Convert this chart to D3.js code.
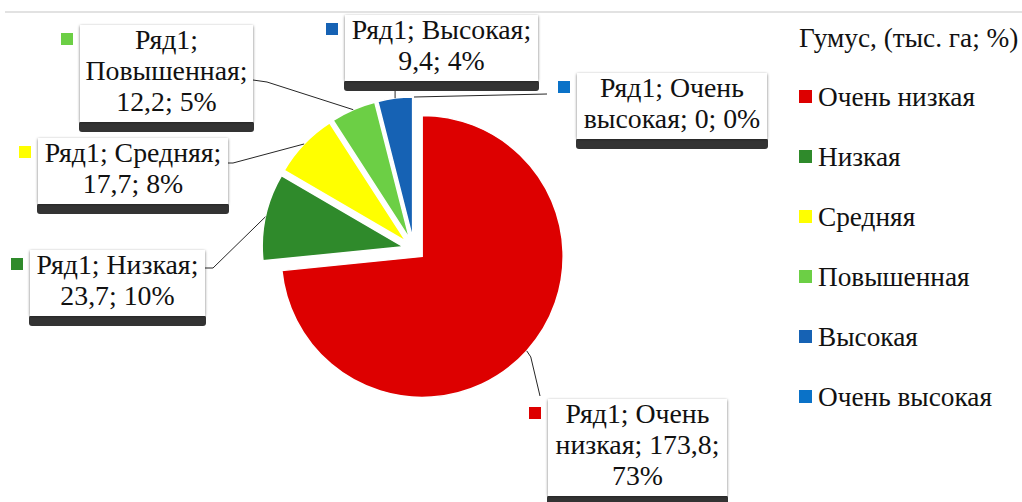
<!DOCTYPE html>
<html>
<head>
<meta charset="utf-8">
<script src="https://cdn.jsdelivr.net/npm/d3@7"></script>
<style>
  body { margin: 0; background: #fff; }
</style>
</head>
<body>
<div id="chart"></div>
<script>
const categories = ["Очень низкая", "Низкая", "Средняя", "Повышенная", "Высокая", "Очень высокая"];
const values = [173.8, 23.7, 17.7, 12.2, 9.4, 0];
const percents = [73, 10, 8, 5, 4, 0];
const seriesName = "Ряд1";
const legendTitle = "Гумус, (тыс. га; %)";
const colors = ["#dd0000", "#2f8a2b", "#ffff00", "#6ccf45", "#1662b4", "#0a72c8"];

const width = 1022, height = 502;
const cx = 414, cy = 249, radius = 141, explode = 11;
const serif = '"Liberation Serif"';
const labelSize = 27.8;
const legendSize = 27.3;

// label box placement, one per category (x, y = top-left, w = box width)
const labelBoxes = [
  { x: 548, y: 399, w: 179, elbow: null },
  { x: 30, y: 250, w: 175, elbow: [[205, 268], [213, 268]] },
  { x: 38, y: 138, w: 190, elbow: [[228, 163], [233, 163]] },
  { x: 80, y: 25, w: 173, elbow: [[253, 80], [267, 82]] },
  { x: 345, y: 15, w: 193, elbow: "vertical" },
  { x: 577, y: 73, w: 190, elbow: [[547, 94]] }
];

const svg = d3.select("#chart")
  .append("svg")
  .attr("width", width)
  .attr("height", height);

const defs = svg.append("defs");
const shadow = defs.append("filter").attr("id", "shadow")
  .attr("x", "-10%").attr("y", "-10%").attr("width", "120%").attr("height", "130%");
shadow.append("feDropShadow")
  .attr("dx", 0).attr("dy", 1).attr("stdDeviation", 1.6)
  .attr("flood-color", "#000").attr("flood-opacity", 0.55);

// thin rule at the top
svg.append("line")
  .attr("x1", 5).attr("x2", width).attr("y1", 12).attr("y2", 12)
  .attr("stroke", "#d9d9d9").attr("stroke-width", 1.5);

const data = categories.map((c, i) => ({ name: c, value: values[i], pct: percents[i], color: colors[i], i }));

const pie = d3.pie().sort(null).value(d => d.value);
const arcs = pie(data);
const arc = d3.arc().innerRadius(0).outerRadius(radius);

function offsetOf(a) {
  const mid = (a.startAngle + a.endAngle) / 2;
  return [explode * Math.sin(mid), -explode * Math.cos(mid)];
}
function rimPoint(a) {
  const mid = (a.startAngle + a.endAngle) / 2;
  const [ox, oy] = offsetOf(a);
  return [cx + ox + radius * Math.sin(mid), cy + oy - radius * Math.cos(mid)];
}

const pieG = svg.append("g");
pieG.selectAll("path")
  .data(arcs)
  .join("path")
  .attr("transform", d => {
    const [ox, oy] = offsetOf(d);
    return `translate(${cx + ox}, ${cy + oy})`;
  })
  .attr("d", arc)
  .attr("fill", d => d.data.color)
  .attr("stroke", "#fff")
  .attr("stroke-width", 1.5);

// leader lines
const fmt = v => String(v).replace(".", ",");
const lineG = svg.append("g");
arcs.forEach((a, i) => {
  const b = labelBoxes[i];
  const p = rimPoint(a);
  let pts;
  if (b.elbow === "vertical") {
    pts = [[p[0], b.y + 24 + 31 + 12], p];
  } else if (b.elbow === null) {
    pts = [[b.x - 8, b.y - 3], [p[0] + 4, p[1] + 6], p];
  } else {
    pts = [...b.elbow, p];
  }
  lineG.append("path")
    .attr("d", d3.line()(pts))
    .attr("fill", "none")
    .attr("stroke", "#262626")
    .attr("stroke-width", 1);
});

// data labels
const labelG = svg.append("g");
arcs.forEach((a, i) => {
  const b = labelBoxes[i];
  const d = a.data;
  const words = `${seriesName}; ${d.name}; ${fmt(d.value)}; ${d.pct}%`.split(" ");
  const g = labelG.append("g");

  // wrap words to box width
  const probe = g.append("text").attr("font-size", labelSize).style("font-family", serif);
  const lines = [];
  let cur = "";
  words.forEach(w => {
    const test = cur ? cur + " " + w : w;
    probe.text(test);
    if (probe.node().getComputedTextLength() > b.w - 8 && cur) {
      lines.push(cur);
      cur = w;
    } else {
      cur = test;
    }
  });
  lines.push(cur);
  probe.remove();

  const lh = 31;
  const firstBase = b.y + 24;
  const barTop = firstBase + (lines.length - 1) * lh + 10;

  g.append("rect")
    .attr("x", b.x - 1).attr("y", barTop)
    .attr("width", b.w + 2).attr("height", 11)
    .attr("rx", 3)
    .attr("fill", "#333");
  g.append("rect")
    .attr("x", b.x).attr("y", b.y)
    .attr("width", b.w).attr("height", barTop - b.y)
    .attr("fill", "#fff")
    .attr("filter", "url(#shadow)");
  g.append("rect")
    .attr("x", b.x).attr("y", b.y)
    .attr("width", b.w).attr("height", barTop - b.y + 1)
    .attr("fill", "#fff");

  g.append("rect")
    .attr("x", b.x - 19).attr("y", firstBase - 16)
    .attr("width", 12).attr("height", 12)
    .attr("fill", d.color);

  g.selectAll("text.l")
    .data(lines)
    .join("text")
    .attr("class", "l")
    .attr("x", b.x + b.w / 2)
    .attr("y", (t, j) => firstBase + j * lh)
    .attr("text-anchor", "middle")
    .attr("font-size", labelSize)
    .style("font-family", serif)
    .attr("fill", "#111")
    .text(t => t);
});

// legend
const legend = svg.append("g").attr("transform", "translate(799, 0)");
legend.append("text")
  .attr("x", 0).attr("y", 47)
  .attr("font-size", legendSize)
  .style("font-family", serif)
  .attr("fill", "#111")
  .text(legendTitle);

const item = legend.selectAll("g.item")
  .data(data)
  .join("g")
  .attr("class", "item")
  .attr("transform", (d, i) => `translate(0, ${97 + i * 60})`);
item.append("rect")
  .attr("x", 0).attr("y", -7)
  .attr("width", 13).attr("height", 13)
  .attr("fill", d => d.color);
item.append("text")
  .attr("x", 19).attr("y", 9)
  .attr("font-size", legendSize)
  .style("font-family", serif)
  .attr("fill", "#111")
  .text(d => d.name);
</script>
</body>
</html>
